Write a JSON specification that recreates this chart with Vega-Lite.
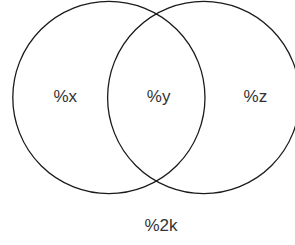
{
  "$schema": "https://vega.github.io/schema/vega-lite/v6.json",
  "width": 295,
  "height": 245,
  "autosize": {"type": "none"},
  "padding": 0,
  "background": "white",
  "config": {"view": {"stroke": null}},
  "datasets": {
    "sets": [
      {"set": "A", "cx": -1, "cy": 0},
      {"set": "B", "cx": 1, "cy": 0}
    ],
    "labels": [
      {"label": "%x", "lx": -1.92, "ly": 0},
      {"label": "%y", "lx": 0.05, "ly": 0},
      {"label": "%z", "lx": 2.09, "ly": 0},
      {"label": "%2k", "lx": 0.1, "ly": -2.72}
    ]
  },
  "layer": [
    {
      "data": {"name": "sets"},
      "mark": {"type": "point", "shape": "circle", "filled": false, "size": 36941, "stroke": "#1a1a1a", "strokeWidth": 1.3, "opacity": 1},
      "encoding": {
        "x": {"field": "cx", "type": "quantitative", "scale": {"domain": [-3.297, 2.926], "nice": false, "zero": false}, "axis": null},
        "y": {"field": "cy", "type": "quantitative", "scale": {"domain": [-3.112, 2.057], "nice": false, "zero": false}, "axis": null}
      }
    },
    {
      "data": {"name": "labels"},
      "mark": {"type": "text", "font": "Liberation Sans", "fontSize": 17, "color": "#333333", "align": "center", "baseline": "middle"},
      "encoding": {
        "x": {"field": "lx", "type": "quantitative"},
        "y": {"field": "ly", "type": "quantitative"},
        "text": {"field": "label"}
      }
    }
  ]
}
